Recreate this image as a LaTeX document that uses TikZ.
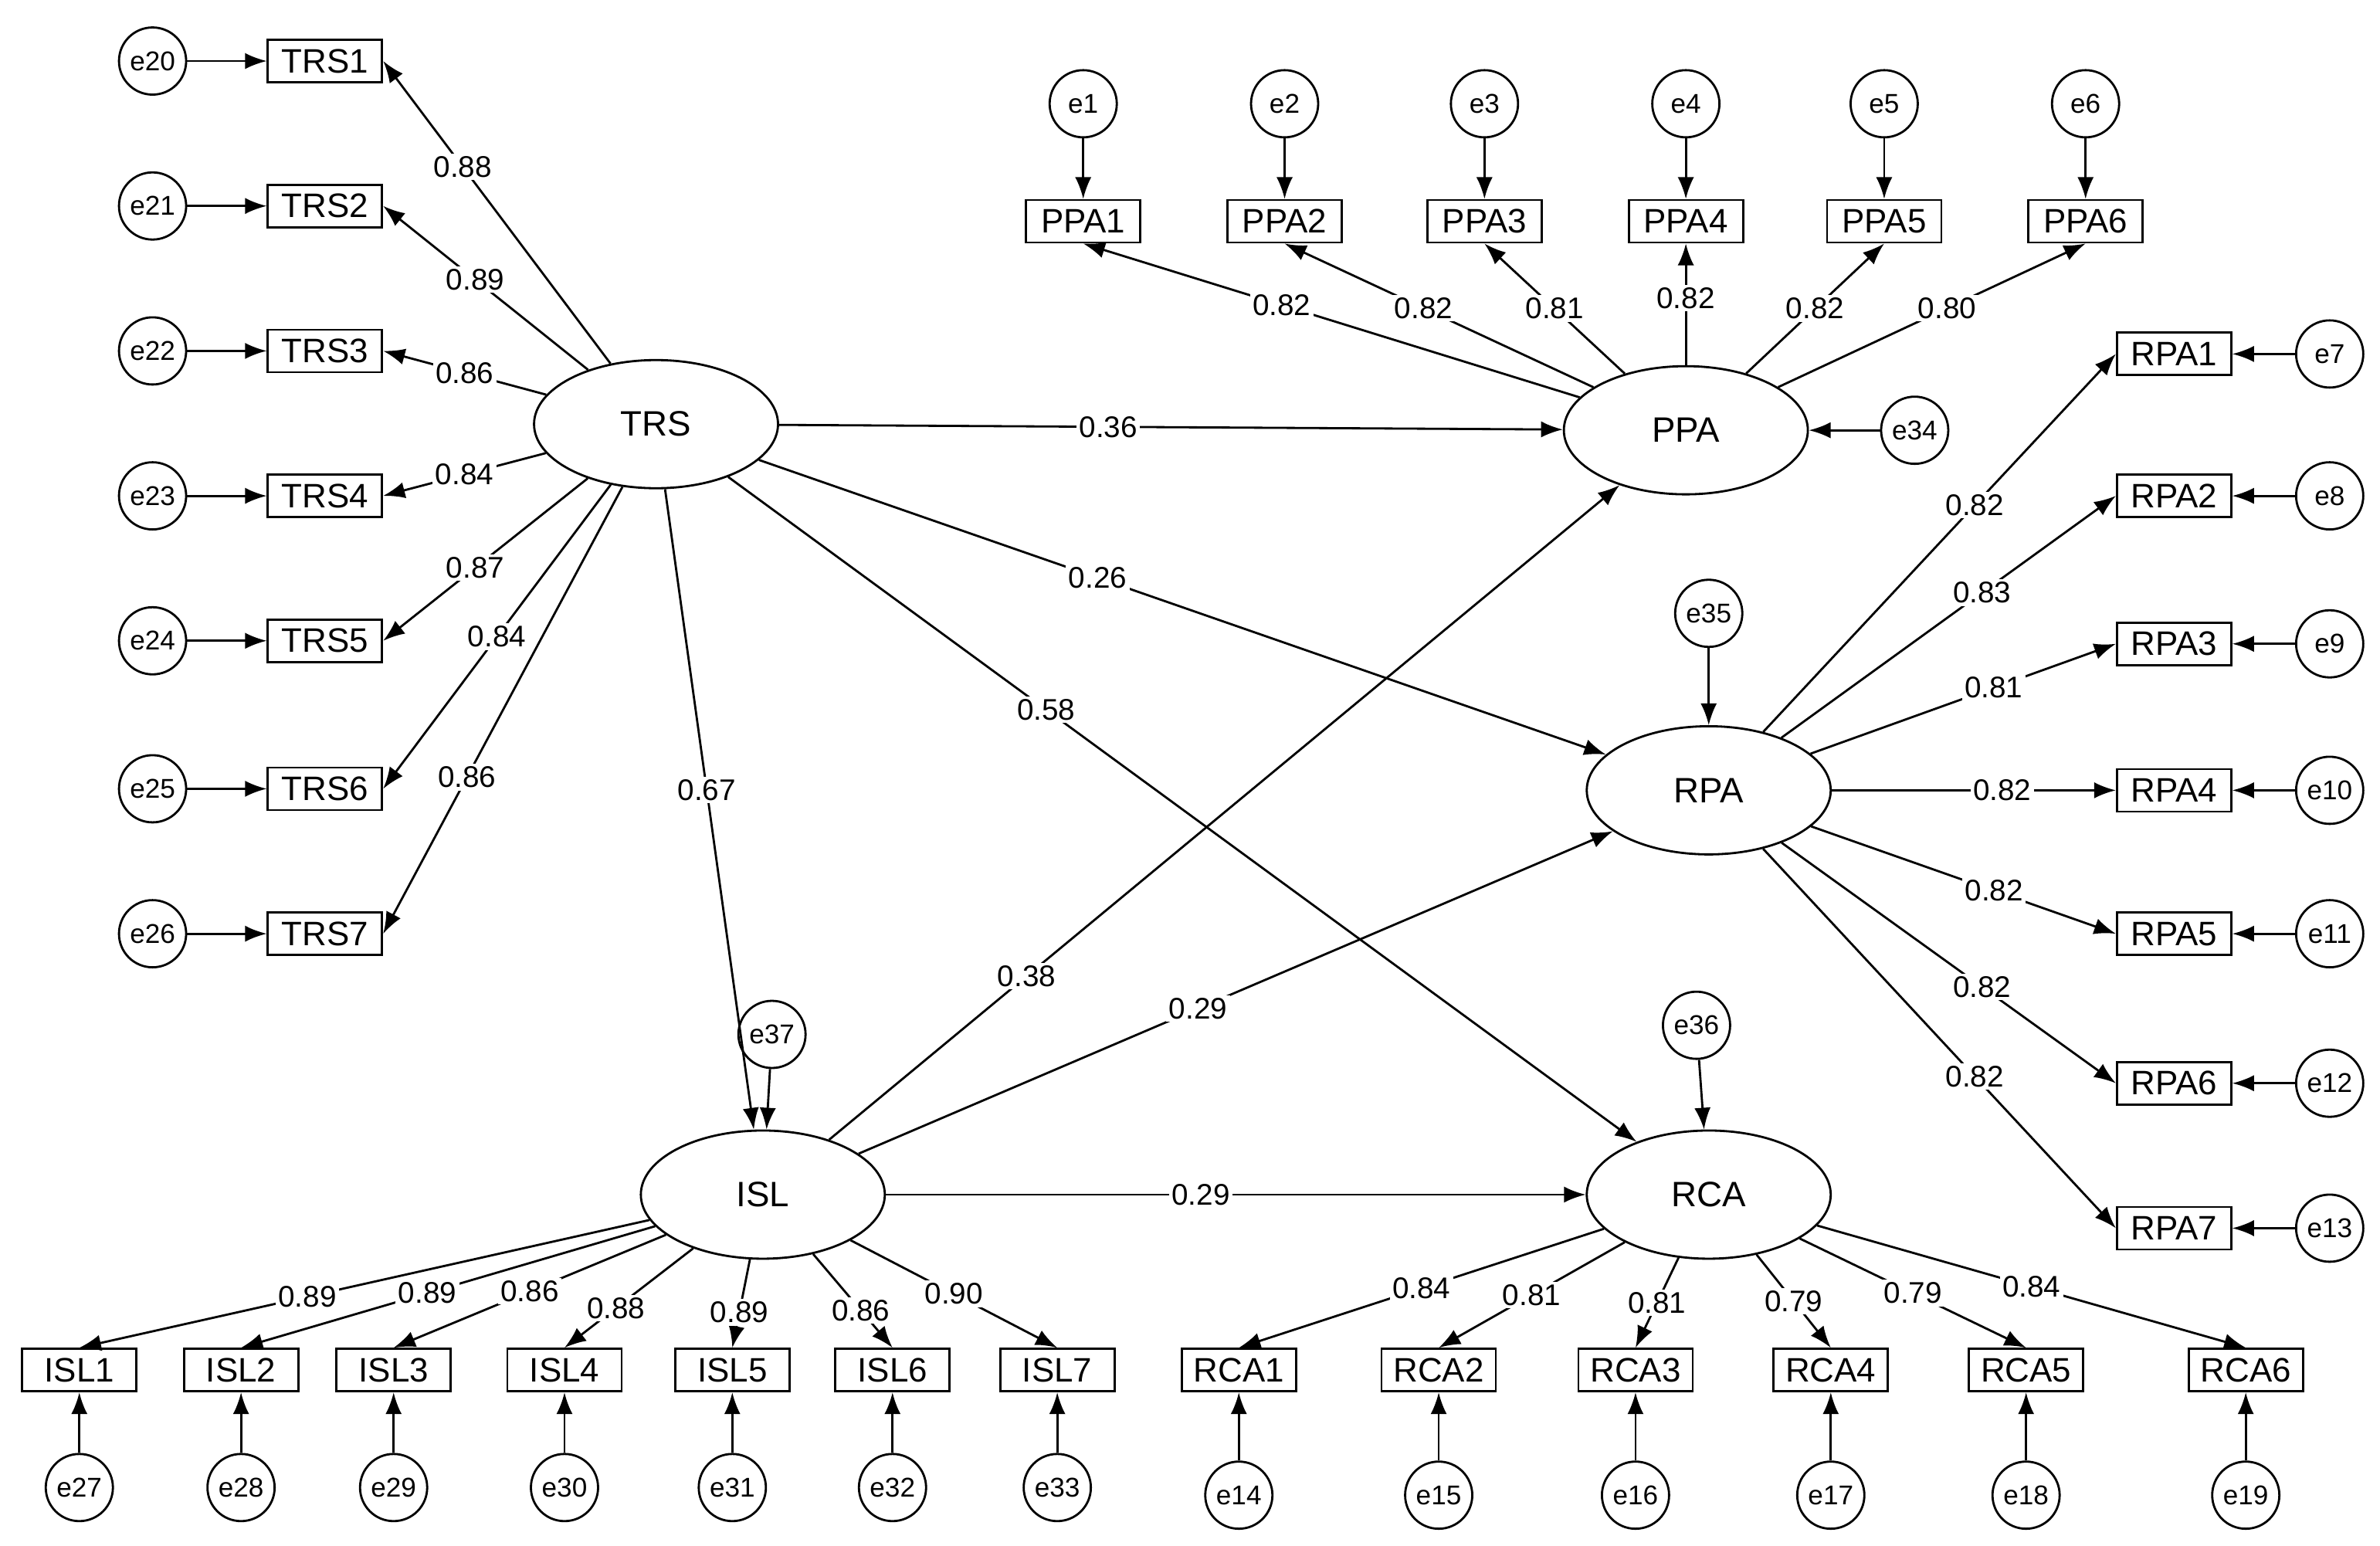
\documentclass[tikz,border=0pt]{standalone}
\usepackage{fontspec}
\setmainfont{Liberation Sans}
\usetikzlibrary{arrows.meta,shapes.geometric}
\begin{document}
\begin{tikzpicture}[x=0.019756cm,y=-0.019756cm,
  obs/.style={draw,thick,minimum width=1.48cm,minimum height=0.55cm,inner sep=1pt,font=\fontsize{12.5}{14}\selectfont},
  err/.style={draw,thick,circle,minimum size=0.87cm,inner sep=0pt,font=\fontsize{10}{12}\selectfont},
  lat/.style={draw,thick,ellipse,minimum width=3.16cm,minimum height=1.66cm,font=\fontsize{13}{15}\selectfont},
  arr/.style={thick,-{Latex[length=8pt,width=6pt]}},
  lab/.style={fill=white,inner sep=1pt,font=\fontsize{11}{13}\selectfont}]
\useasboundingbox (0,0) rectangle (1560,1013);
\node[lat] (TRS) at (430,278) {TRS};
\node[lat] (PPA) at (1105,282) {PPA};
\node[lat] (RPA) at (1120,518) {RPA};
\node[lat] (RCA) at (1120,783) {RCA};
\node[lat] (ISL) at (500,783) {ISL};
% TRS
\foreach \i/\y/\e/\v/\p in {1/40/20/0.88/0.65,2/135/21/0.89/0.55,3/230/22/0.86/0.5,4/325/23/0.84/0.5,5/420/24/0.87/0.55,6/517/25/0.84/0.5,7/612/26/0.86/0.65}{
  \node[obs] (TRS\i) at (213,\y) {TRS\i};
  \node[err] (e\e) at (100,\y) {e\e};
  \draw[arr] (e\e) -- (TRS\i);
  \draw[arr] (TRS) -- node[lab,pos=\p]{\v} (TRS\i.east);
}
% PPA
\foreach \i/\x/\v/\p in {1/710/0.82/0.6,2/842/0.82/0.55,3/973/0.81/0.5,4/1105/0.82/0.55,5/1235/0.82/0.5,6/1367/0.80/0.55}{
  \node[obs] (PPA\i) at (\x,145) {PPA\i};
  \node[err] (e\i) at (\x,68) {e\i};
  \draw[arr] (e\i) -- (PPA\i);
  \draw[arr] (PPA) -- node[lab,pos=\p]{\v} (PPA\i.south);
}
% RPA
\foreach \i/\y/\e/\v in {1/232/7/0.82,2/325/8/0.83,3/422/9/0.81,4/518/10/0.82,5/612/11/0.82,6/710/12/0.82,7/805/13/0.82}{
  \node[obs] (RPA\i) at (1425,\y) {RPA\i};
  \node[err] (e\e) at (1527,\y) {e\e};
  \draw[arr] (e\e) -- (RPA\i);
  \draw[arr] (RPA) -- node[lab,pos=0.6]{\v} (RPA\i.west);
}
% ISL
\foreach \i/\x/\e/\v/\p in {1/52/27/0.89/0.6,2/158/28/0.89/0.55,3/258/29/0.86/0.5,4/370/30/0.88/0.6,5/480/31/0.89/0.6,6/585/32/0.86/0.6,7/693/33/0.90/0.5}{
  \node[obs] (ISL\i) at (\x,898) {ISL\i};
  \node[err] (e\e) at (\x,975) {e\e};
  \draw[arr] (e\e) -- (ISL\i);
  \draw[arr] (ISL) -- node[lab,pos=\p]{\v} (ISL\i.north);
}
% RCA
\foreach \i/\x/\e/\v in {1/812/14/0.84,2/943/15/0.81,3/1072/16/0.81,4/1200/17/0.79,5/1328/18/0.79,6/1472/19/0.84}{
  \node[obs] (RCA\i) at (\x,898) {RCA\i};
  \node[err] (e\e) at (\x,980) {e\e};
  \draw[arr] (e\e) -- (RCA\i);
  \draw[arr] (RCA) -- node[lab,pos=0.5]{\v} (RCA\i.north);
}
\node[err] (e34) at (1255,282) {e34};
\node[err] (e35) at (1120,402) {e35};
\node[err] (e36) at (1112,672) {e36};
\node[err] (e37) at (506,678) {e37};
\draw[arr] (e34) -- (PPA);
\draw[arr] (e35) -- (RPA);
\draw[arr] (e36) -- (RCA);
\draw[arr] (e37) -- (ISL);
\draw[arr] (TRS) -- node[lab,pos=0.42]{0.36} (PPA);
\draw[arr] (TRS) -- node[lab,pos=0.4]{0.26} (RPA);
\draw[arr] (TRS) -- node[lab,pos=0.35]{0.58} (RCA);
\draw[arr] (TRS) -- node[lab,pos=0.47]{0.67} (ISL);
\draw[arr] (ISL) -- node[lab,pos=0.25]{0.38} (PPA);
\draw[arr] (ISL) -- node[lab,pos=0.45]{0.29} (RPA);
\draw[arr] (ISL) -- node[lab,pos=0.45]{0.29} (RCA);
\end{tikzpicture}
\end{document}
